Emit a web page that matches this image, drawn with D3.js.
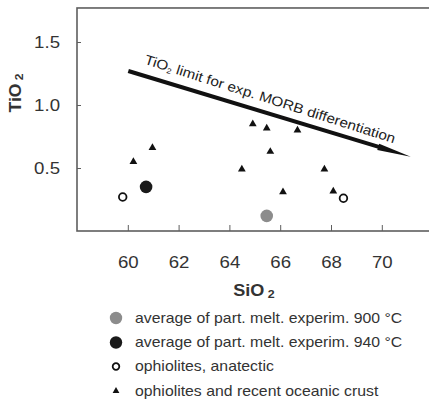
<!DOCTYPE html>
<html>
<head>
<meta charset="utf-8">
<script src="https://cdn.jsdelivr.net/npm/d3@7"></script>
<style>
  body { margin: 0; background: #fff; }
  text { font-family: "Liberation Sans", Arial, sans-serif; }
</style>
</head>
<body>
<div id="chart"></div>
<script>
// SiO2 / TiO2 values
const triSiO2 = [60.22, 60.97, 64.49, 64.92, 65.47, 65.61, 66.68, 66.11, 67.74, 68.09];
const triTiO2 = [0.55, 0.66, 0.49, 0.85, 0.815, 0.63, 0.80, 0.31, 0.49, 0.315];
const openSiO2 = [59.8, 68.49];
const openTiO2 = [0.27, 0.26];
const avg900 = [65.47, 0.12];
const avg940 = [60.72, 0.35];
const limitLine = [[60.02, 1.27], [71.14, 0.59]];
const xTicks = [60, 62, 64, 66, 68, 70];
const yTicks = [0.5, 1.0, 1.5];
const legendLabels = [
    "average of part. melt. experim. 900 °C",
    "average of part. melt. experim. 940 °C",
    "ophiolites, anatectic",
    "ophiolites and recent oceanic crust"
];

const width = 429, height = 399;
const SX = 1.13; // the original figure is a bit wider than tall
const svg = d3.select("#chart").append("svg")
    .attr("width", width)
    .attr("height", height);

const x = d3.scaleLinear().domain([58, 72]).range([77, 77 + 14 * 25.4]);
const y = d3.scaleLinear().domain([0, 1.77]).range([231, 231 - 1.77 * 126]);

const frameCol = "#5e5e5e";
const textCol = "#333";

// frame (right side runs off the picture)
svg.append("rect")
    .attr("x", x(58))
    .attr("y", y(1.77))
    .attr("width", x(72) - x(58))
    .attr("height", y(0) - y(1.77))
    .attr("fill", "none")
    .attr("stroke", frameCol)
    .attr("stroke-width", 1.6);

// axes
const xAxis = svg.append("g")
    .attr("transform", `translate(0,${y(0)})`)
    .call(d3.axisBottom(x).tickValues(xTicks).tickSize(-6).tickPadding(25).tickFormat(d3.format("d")));
const yAxis = svg.append("g")
    .attr("transform", `translate(${x(58)},0)`)
    .call(d3.axisLeft(y).tickValues(yTicks).tickSize(-4).tickPadding(17).tickFormat(d3.format(".1f")));
[xAxis, yAxis].forEach(function (g) {
    g.select(".domain").remove();
    g.selectAll(".tick line").attr("stroke", frameCol).attr("stroke-width", 1);
    g.selectAll(".tick text")
        .attr("fill", textCol)
        .attr("font-size", "16.5px")
        .attr("font-family", "Liberation Sans, Arial, sans-serif")
        .attr("transform", `scale(${SX},1)`);
});
yAxis.selectAll(".tick text").attr("x", -17 / SX);

// axis titles
const xt = svg.append("text")
    .attr("transform", `translate(254,296) scale(${SX},1)`)
    .attr("text-anchor", "middle")
    .attr("font-size", "16px")
    .attr("font-weight", "bold")
    .attr("fill", textCol);
xt.append("tspan").text("SiO");
xt.append("tspan").attr("font-size", "11px").attr("dx", 3).attr("dy", 2).text("2");

const yt = svg.append("text")
    .attr("transform", "translate(21,93) rotate(-90) scale(1.1,1)")
    .attr("text-anchor", "middle")
    .attr("font-size", "16px")
    .attr("font-weight", "bold")
    .attr("fill", textCol);
yt.append("tspan").text("TiO");
yt.append("tspan").attr("font-size", "11px").attr("dx", 3).attr("dy", 2).text("2");

// TiO2 limit arrow
const p0 = [x(limitLine[0][0]), y(limitLine[0][1])];
const p1 = [x(limitLine[1][0]), y(limitLine[1][1])];
const ang = Math.atan2(p1[1] - p0[1], p1[0] - p0[0]);
const headLen = 34;
const hb = [p1[0] - headLen * Math.cos(ang), p1[1] - headLen * Math.sin(ang)];
svg.append("line")
    .attr("x1", p0[0]).attr("y1", p0[1])
    .attr("x2", hb[0] + 4 * Math.cos(ang)).attr("y2", hb[1] + 4 * Math.sin(ang))
    .attr("stroke", "#111")
    .attr("stroke-width", 4);
const nx = -Math.sin(ang), ny = Math.cos(ang);
svg.append("path")
    .attr("d", d3.line()([
        [hb[0] + 3.3 * nx, hb[1] + 3.3 * ny],
        p1,
        [hb[0] - 3.3 * nx, hb[1] - 3.3 * ny]
    ]) + "Z")
    .attr("fill", "#111");

const txtAng = ang * 180 / Math.PI + 0.8;
const lab = svg.append("text")
    .attr("transform", `translate(${p0[0] + 12 + 11.5 * Math.sin(ang)},${p0[1] + 12 * Math.tan(ang) - 11.5 * Math.cos(ang)}) rotate(${txtAng}) scale(${SX},1)`)
    .attr("font-size", "13.6px")
    .attr("fill", "#222");
lab.append("tspan").text("TiO");
lab.append("tspan").attr("font-size", "7.5px").attr("dy", 2).text("2");
lab.append("tspan").attr("dy", -2).text(" limit for exp. MORB differentiation");

// markers
const tri = d3.symbol().type(d3.symbolTriangle).size(26);
svg.append("g").selectAll("path")
    .data(triSiO2)
    .join("path")
    .attr("d", tri)
    .attr("transform", (d, i) => `translate(${x(d)},${y(triTiO2[i])})`)
    .attr("fill", "#111");

svg.append("g").selectAll("circle")
    .data(openSiO2)
    .join("circle")
    .attr("cx", d => x(d))
    .attr("cy", (d, i) => y(openTiO2[i]))
    .attr("r", 3.8)
    .attr("fill", "#fff")
    .attr("stroke", "#111")
    .attr("stroke-width", 1.8);

svg.append("circle")
    .attr("cx", x(avg940[0])).attr("cy", y(avg940[1]))
    .attr("r", 6.3).attr("fill", "#1a1a1a");
svg.append("circle")
    .attr("cx", x(avg900[0])).attr("cy", y(avg900[1]))
    .attr("r", 6.3).attr("fill", "#8c8c8c");

// legend
const legY = [318, 342.5, 366.5, 391];
const leg = svg.append("g").selectAll("g")
    .data(legendLabels)
    .join("g")
    .attr("transform", (d, i) => `translate(116,${legY[i]})`);
leg.append("text")
    .attr("transform", `translate(19,0) scale(${SX},1)`)
    .attr("dy", "0.35em")
    .attr("font-size", "14px")
    .attr("fill", textCol)
    .text(d => d);
leg.each(function (d, i) {
    const g = d3.select(this);
    if (i === 0) g.append("circle").attr("r", 6.2).attr("fill", "#8c8c8c");
    if (i === 1) g.append("circle").attr("r", 6.2).attr("fill", "#1a1a1a");
    if (i === 2) g.append("circle").attr("r", 3.3).attr("fill", "#fff").attr("stroke", "#111").attr("stroke-width", 1.8);
    if (i === 3) g.append("path").attr("d", d3.symbol().type(d3.symbolTriangle).size(20)).attr("fill", "#111");
});
</script>
</body>
</html>
